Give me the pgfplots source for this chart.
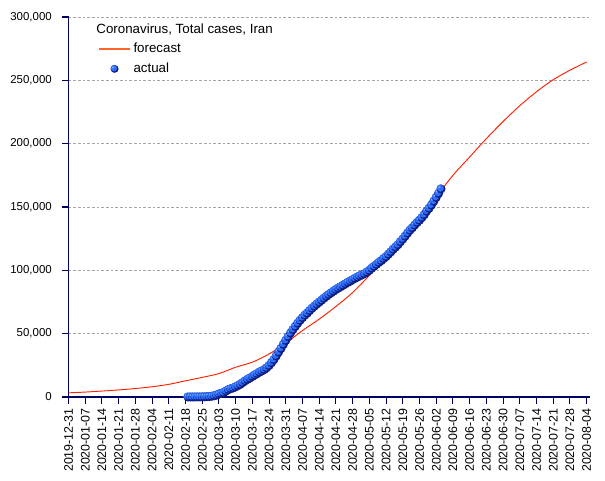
\documentclass[border=0pt]{standalone}
\usepackage{pgfplots}
\pgfplotsset{compat=1.18}
\usepackage{fontspec}
\setmainfont{Liberation Sans}
\definecolor{navyax}{RGB}{0,0,96}
\definecolor{fc}{RGB}{255,30,0}
\definecolor{fcleg}{RGB}{255,100,40}
\definecolor{ballc}{RGB}{45,110,250}
\definecolor{ballhi}{RGB}{160,200,255}
\definecolor{ballnavy}{RGB}{15,30,130}
\pgfdeclareradialshading{myballshade}{\pgfqpoint{-12bp}{12bp}}{color(0bp)=(ballhi); color(10bp)=(ballc); color(40bp)=(ballc); color(50bp)=(ballc)}
\pgfdeclareplotmark{myball}{%
  \pgfpathcircle{\pgfpointorigin}{\pgfplotmarksize}\pgfsetfillcolor{ballnavy}\pgfusepath{fill}%
  \pgfpathcircle{\pgfpoint{-0.17\pgfplotmarksize}{0.17\pgfplotmarksize}}{0.8\pgfplotmarksize}\pgfshadepath{myballshade}{0}\pgfusepath{}}
\begin{document}
\begin{tikzpicture}
\begin{axis}[
  at={(0,0)}, anchor=south west,
  scale only axis, width=391.1pt, height=285pt,
  xmin=0, xmax=218.4, ymin=0, ymax=300000,
  axis x line*=bottom, axis y line*=left,
  axis line style={navyax, line width=0.8pt, -},
  tick style={navyax, line width=0.8pt},
  tick align=outside, major tick length=5pt,
  xtick={0,7,...,217},
  xticklabels={2019-12-31,2020-01-07,2020-01-14,2020-01-21,2020-01-28,2020-02-04,2020-02-11,2020-02-18,2020-02-25,2020-03-03,2020-03-10,2020-03-17,2020-03-24,2020-03-31,2020-04-07,2020-04-14,2020-04-21,2020-04-28,2020-05-05,2020-05-12,2020-05-19,2020-05-26,2020-06-02,2020-06-09,2020-06-16,2020-06-23,2020-06-30,2020-07-07,2020-07-14,2020-07-21,2020-07-28,2020-08-04},
  x tick label style={rotate=90, anchor=east, font=\fontsize{9.3}{10}\selectfont},
  ytick={0,50000,...,300000},
  scaled y ticks=false,
  y tick label style={/pgf/number format/fixed, /pgf/number format/1000 sep={,}, font=\fontsize{8.6}{10}\selectfont, xshift=-4pt},
  /pgf/number format/assume math mode=true,
  ymajorgrids,
  grid style={gray!70, dash pattern=on 2pt off 1.5pt, line width=0.5pt},
  legend style={at={(0.049,0.946)}, anchor=north west, draw=none, fill=none,
    font=\fontsize{10}{12}\selectfont, row sep=2.2pt},
  legend cell align=left,
]
\addlegendimage{legend image code/.code={\draw[fcleg, line width=1.6pt] (0cm,0cm) -- (0.8cm,0cm);}}
\addlegendentry{forecast}
\addlegendimage{legend image code/.code={\path plot[mark=myball, mark size=3pt] coordinates {(0.4cm,0cm)};}}
\addlegendentry{actual}

\addplot[fc, line width=0.7pt, smooth, forget plot] coordinates {
(0,3300) (7,3900) (14,4700) (21,5600) (28,6700) (35,8100) (42,10000) (49,12800)
(56,15500) (63,18500) (70,23500) (77,27500) (84,34000) (91,42500) (98,52500)
(105,61500) (112,71500) (119,82500) (126,96000) (133,110000) (140,124000)
(147,140000) (154,158000) (161,175000) (168,189500) (175,204000) (182,217500)
(189,230000) (196,241000) (203,250500) (210,258000) (217,264500)
};

\addplot[only marks, mark=myball, mark size=3.4pt, forget plot] coordinates {
(50,2) (51,5) (52,18) (53,28) (54,43) (55,61) (56,95) (57,139) (58,245) (59,388) (60,593)
(61,978) (62,1501) (63,2336) (64,2922) (65,3513) (66,4747) (67,5823) (68,6566) (69,7161)
(70,8042) (71,9000) (72,10075) (73,11364) (74,12729) (75,13938) (76,14991) (77,16169)
(78,17361) (79,18407) (80,19644) (81,20610) (82,21638) (83,23049) (84,24811) (85,27017)
(86,29406) (87,32332) (88,35408) (89,38309) (90,41495) (91,44605)
(92,47593) (93,50468) (94,53183) (95,55743) (96,58226) (97,60500) (98,62589) (99,64586)
(100,66220) (101,68192) (102,70029) (103,71686) (104,73303) (105,74877) (106,76389)
(107,77995) (108,79494) (109,80868) (110,82211) (111,83505) (112,84802) (113,85996)
(114,87026) (115,88194) (116,89328) (117,90481) (118,91472) (119,92584) (120,93657)
(121,94640) (122,95646) (123,96448) (124,97424) (125,98647) (126,99970) (127,101650)
(128,103135) (129,104691) (130,106220) (131,107603) (132,109286) (133,110767)
(134,112725) (135,114533) (136,116635) (137,118392) (138,120198) (139,122492)
(140,124603) (141,126949) (142,129341) (143,131652) (144,133521) (145,135701)
(146,137724) (147,139511) (148,141591) (149,143849) (150,146668) (151,148950)
(152,151466) (153,154445) (154,157562) (155,160696) (156,164270)
};

\node[anchor=west, font=\fontsize{10}{12}\selectfont, inner sep=0pt] at (rel axis cs:0.053,0.966) {Coronavirus, Total cases, Iran};
\end{axis}
\path[use as bounding box] (-51.4pt,-62.25pt) rectangle (402.35pt,297.75pt);
\end{tikzpicture}
\end{document}
